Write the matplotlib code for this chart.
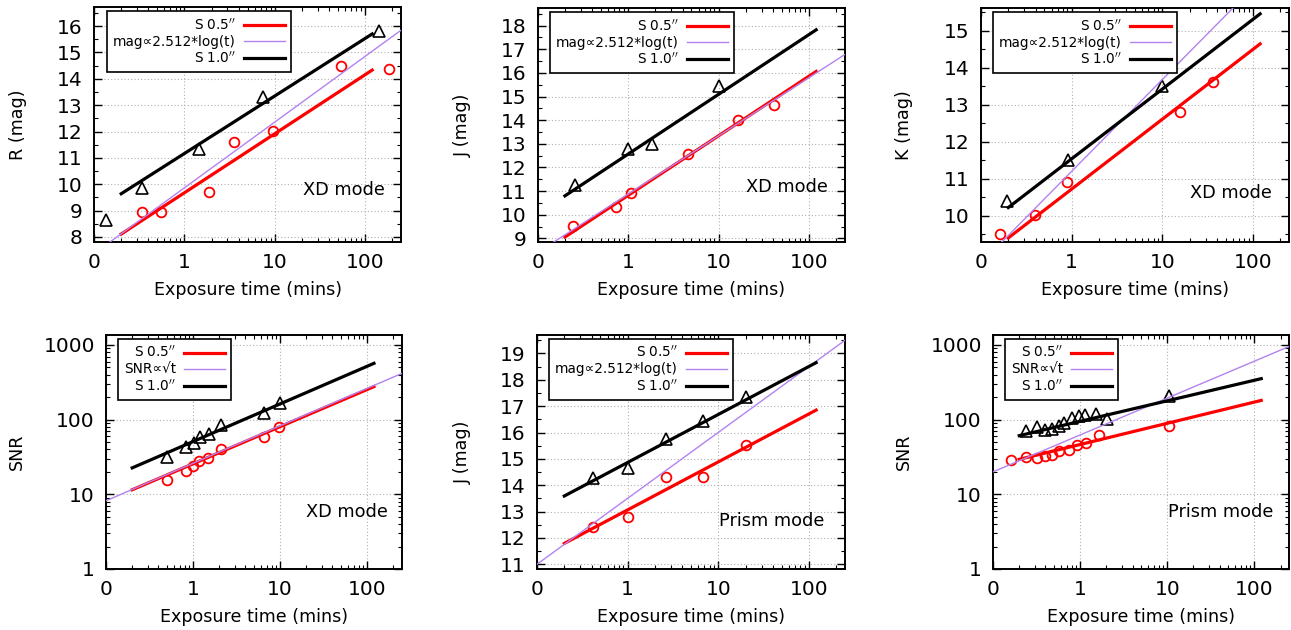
import numpy as np
import matplotlib
matplotlib.use('Agg')
import matplotlib.pyplot as plt
from matplotlib.ticker import FixedLocator, FixedFormatter, LogLocator, MultipleLocator, NullFormatter

# ---- data ----
# fit lines run over the same exposure range in every panel
fit_t = [0.2, 120]

# R band, XD mode
r_t05 = [0.34, 0.555, 1.87, 3.5, 9.47, 54, 185]
r_m05 = [8.93, 8.93, 9.72, 11.61, 12.03, 14.49, 14.37]
r_t10 = [0.136, 0.34, 1.46, 7.36, 144]
r_m10 = [8.66, 9.85, 11.33, 13.32, 15.82]
r_fit05 = [8.11, 14.33]
r_fit10 = [9.64, 15.70]
r_mod_t = [0.1, 250]
r_mod = [7.37, 15.84]

# J band, XD mode
jx_t05 = [0.245, 0.74, 1.08, 4.6, 16.3, 40.8]
jx_m05 = [9.51, 10.35, 10.92, 12.58, 13.99, 14.65]
jx_t10 = [0.26, 1.0, 1.85, 10.0]
jx_m10 = [11.27, 12.79, 13.0, 15.45]
jx_fit05 = [9.06, 16.06]
jx_fit10 = [10.80, 17.82]
jx_mod_t = [0.1, 250]
jx_mod = [8.41, 16.78]

# K band, XD mode
k_t05 = [0.163, 0.39, 0.90, 15.6, 36.4]
k_m05 = [9.51, 10.01, 10.90, 12.81, 13.61]
k_t10 = [0.193, 0.92, 10.0]
k_m10 = [10.41, 11.51, 13.51]
k_fit05 = [9.40, 14.64]
k_fit10 = [10.22, 15.45]
k_mod_t = [0.1, 250]
k_mod = [8.72, 17.14]

# SNR, XD mode
sx_t05 = [0.50, 0.84, 1.0, 1.16, 1.47, 2.09, 6.5, 9.6]
sx_s05 = [15.7, 20.8, 23.7, 27.7, 30.7, 40.5, 59.2, 80.6]
sx_t10 = [0.50, 0.84, 1.02, 1.19, 1.51, 2.09, 6.5, 10.0]
sx_s10 = [32, 42.5, 48.2, 58, 64.5, 85.8, 121, 165]
sx_fit05 = [11.5, 277]
sx_fit10 = [22.6, 568]
sx_mod_t = [0.1, 250]
sx_mod = [8.2, 415]

# J band, Prism mode
jp_t05 = [0.41, 1.0, 2.67, 6.7, 20.3]
jp_m05 = [12.43, 12.81, 14.30, 14.30, 15.52]
jp_t10 = [0.41, 1.0, 2.67, 6.8, 20.3]
jp_m10 = [14.26, 14.64, 15.75, 16.43, 17.33]
jp_fit05 = [11.79, 16.85]
jp_fit10 = [13.59, 18.65]
jp_mod_t = [0.1, 250]
jp_mod = [11.0, 19.5]

# SNR, Prism mode
sp_t05 = [0.161, 0.24, 0.32, 0.40, 0.48, 0.57, 0.74, 0.91, 1.17, 1.65, 10.5]
sp_s05 = [28.5, 31.6, 31, 32.3, 33.3, 37.6, 38.8, 45.3, 49.2, 61.6, 81]
sp_t10 = [0.24, 0.32, 0.40, 0.48, 0.57, 0.66, 0.81, 0.96, 1.15, 1.51, 2.01, 10.5]
sp_s10 = [70, 79.6, 72, 74, 82, 91, 105, 111, 114, 118, 103, 205]
sp_fit05 = [29.4, 181]
sp_fit10 = [61, 354]
sp_mod_t = [0.1, 250]
sp_mod = [20.0, 953]

xtick_vals = [0.1, 1, 10, 100]
xtick_labels = ['0', '1', '10', '100']

W, H = 1291, 630
fig = plt.figure(figsize=(W / 100, H / 100), dpi=100)
plt.rcParams['font.family'] = 'DejaVu Sans'

def pixbox(l, r, t, b):
	return [l / W, 1 - b / H, (r - l) / W, (b - t) / H]

def panel(box, t05, v05, t10, v10, f05, f10, mt, mv, ylab, ylim, mode, modelab,
          logy, yticks, ylabx, modexy, legx):
	ax = fig.add_axes(pixbox(*box))
	ax.set_xscale('log')
	if logy:
		ax.set_yscale('log')
	ax.plot(t05, v05, 'o', mfc='none', mec='red', ms=7, mew=1.3, zorder=3)
	ax.plot(t10, v10, '^', mfc='none', mec='black', ms=8.5, mew=1.2, zorder=3)
	ax.plot(fit_t, f05, color='red', lw=2.3, label='S 0.5$^{\\prime\\prime}$', zorder=4)
	ax.plot(mt, mv, color='#b482f0', lw=1.0, label=modelab, zorder=5)
	ax.plot(fit_t, f10, color='black', lw=2.3, label='S 1.0$^{\\prime\\prime}$', zorder=6)
	ax.set_xlim(0.1, 250)
	ax.set_ylim(*ylim)
	ax.xaxis.set_major_locator(FixedLocator(xtick_vals))
	ax.xaxis.set_major_formatter(FixedFormatter(xtick_labels))
	ax.xaxis.set_minor_locator(LogLocator(base=10, subs=np.arange(2, 10)))
	ax.xaxis.set_minor_formatter(NullFormatter())
	if logy:
		ax.yaxis.set_major_locator(FixedLocator(yticks))
		ax.yaxis.set_major_formatter(FixedFormatter([str(v) for v in yticks]))
		ax.yaxis.set_minor_locator(LogLocator(base=10, subs=np.arange(2, 10)))
		ax.yaxis.set_minor_formatter(NullFormatter())
	else:
		ax.yaxis.set_major_locator(FixedLocator(yticks))
		ax.yaxis.set_minor_locator(MultipleLocator(0.5))
	ax.tick_params(which='both', direction='in', top=True, right=True, labelsize=14.5, pad=8)
	ax.tick_params(which='major', length=6, width=1)
	ax.tick_params(which='minor', length=3, width=0.8)
	ax.grid(True, which='major', color='#b0b0b0', linestyle=(0, (1, 2)), lw=0.8)
	for s in ax.spines.values():
		s.set_linewidth(1.4)
	ax.set_xlabel('Exposure time (mins)', fontsize=12.6)
	ax.xaxis.set_label_coords(0.5, -0.165)
	ax.set_ylabel(ylab, fontsize=12.6)
	ax.yaxis.set_label_coords(ylabx, 0.5)
	ax.text(modexy[0], modexy[1], mode, transform=ax.transAxes, ha='right', va='center', fontsize=12.8)
	wpx = box[1] - box[0]
	hpx = box[3] - box[2]
	leg = ax.legend(loc='upper left', bbox_to_anchor=(legx / wpx, 1 - 4 / hpx), borderaxespad=0,
	                fontsize=9.8, markerfirst=False, fancybox=False, framealpha=1,
	                edgecolor='black', handlelength=3.0, handletextpad=0.6,
	                labelspacing=0.15, borderpad=0.45)
	leg.get_frame().set_linewidth(1.2)
	leg.set_zorder(10)
	return ax

panel((94, 401, 7.3, 242), r_t05, r_m05, r_t10, r_m10, r_fit05, r_fit10, r_mod_t, r_mod,
      'R (mag)', (7.81, 16.71), 'XD mode', 'mag\u221d2.512*log(t)', False,
      list(range(8, 17)), -0.219, (0.948, 0.22), 13)
panel((537.7, 845, 8.3, 242), jx_t05, jx_m05, jx_t10, jx_m10, jx_fit05, jx_fit10, jx_mod_t, jx_mod,
      'J (mag)', (8.85, 18.73), 'XD mode', 'mag\u221d2.512*log(t)', False,
      list(range(9, 19)), -0.215, (0.945, 0.237), 12)
panel((981, 1289, 8.3, 242), k_t05, k_m05, k_t10, k_m10, k_fit05, k_fit10, k_mod_t, k_mod,
      'K (mag)', (9.29, 15.6), 'XD mode', 'mag\u221d2.512*log(t)', False,
      list(range(10, 16)), -0.22, (0.945, 0.21), 12)
panel((106, 401.7, 335, 569), sx_t05, sx_s05, sx_t10, sx_s10, sx_fit05, sx_fit10, sx_mod_t, sx_mod,
      'SNR', (1, 1360), 'XD mode', 'SNR\u221d\u221at', True,
      [1, 10, 100, 1000], -0.27, (0.954, 0.245), 12)
panel((537, 845, 335, 569), jp_t05, jp_m05, jp_t10, jp_m10, jp_fit05, jp_fit10, jp_mod_t, jp_mod,
      'J (mag)', (10.82, 19.70), 'Prism mode', 'mag\u221d2.512*log(t)', False,
      list(range(11, 20)), -0.212, (0.932, 0.206), 12)
panel((993, 1289, 335, 569), sp_t05, sp_s05, sp_t10, sp_s10, sp_fit05, sp_fit10, sp_mod_t, sp_mod,
      'SNR', (1, 1360), 'Prism mode', 'SNR\u221d\u221at', True,
      [1, 10, 100, 1000], -0.271, (0.946, 0.242), 12)

plt.savefig('out.png', dpi=100)
